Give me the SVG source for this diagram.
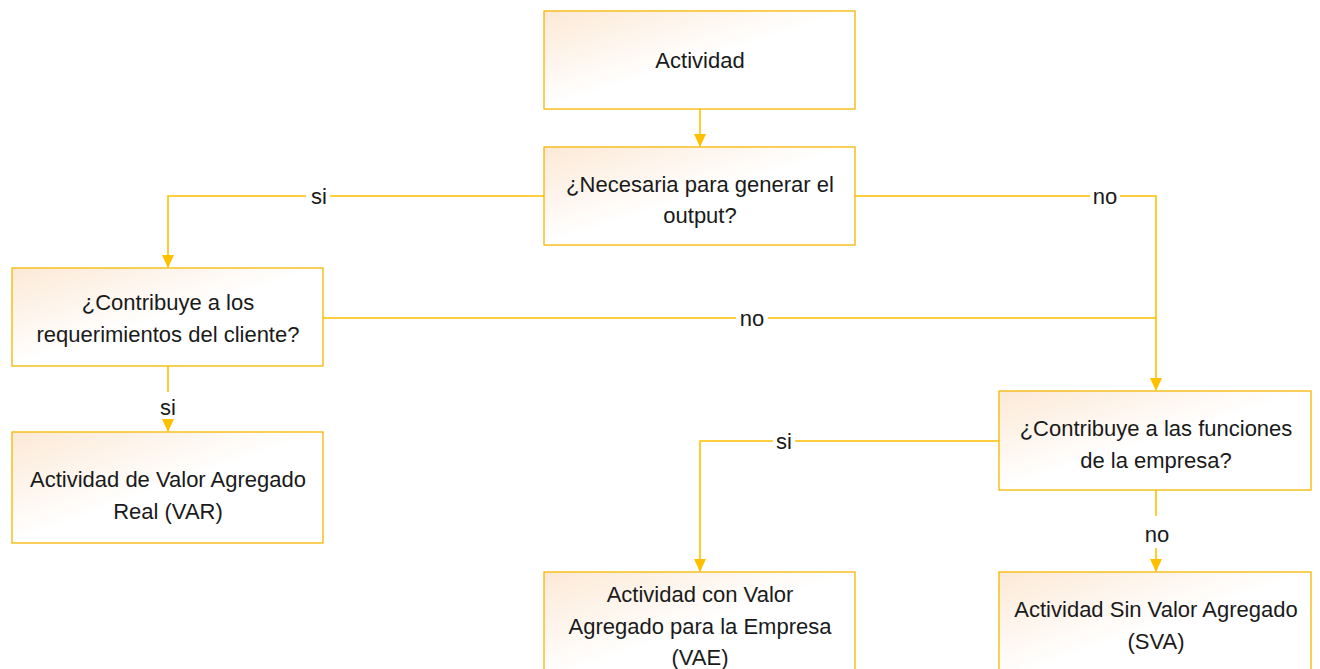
<svg xmlns="http://www.w3.org/2000/svg" width="1320" height="669" viewBox="0 0 1320 669">
<style>
.box{stroke:#F5B700;stroke-width:1.3;fill:url(#g)}
.t{font-family:"Liberation Sans",Arial,sans-serif;font-size:22px;fill:#1a1a1a;text-anchor:middle}
.c{stroke:#FFC000;stroke-width:1.6;fill:none}
.lb{font-family:"Liberation Sans",Arial,sans-serif;font-size:22px;fill:#1a1a1a;text-anchor:middle}
</style>
<defs>
<linearGradient id="g" x1="0" y1="0" x2="1" y2="1">
<stop offset="0" stop-color="#FCE9D6"/>
<stop offset="0.5" stop-color="#FFFFFF"/>
<stop offset="1" stop-color="#FFFFFF"/>
</linearGradient>
<marker id="a" markerWidth="14" markerHeight="12" refX="12" refY="6" orient="auto" markerUnits="userSpaceOnUse">
<path d="M0,0 L13,6 L0,12 Z" fill="#FFC000"/>
</marker>
</defs>
<rect width="1320" height="669" fill="#fff"/>
<g id="connectors">
<path class="c" d="M700,109 V146" marker-end="url(#a)"/>
<path class="c" d="M544,196 H330 M306,196 H168 V267" marker-end="url(#a)"/>
<path class="c" d="M855,196 H1090 M1120,196 H1156 V390" marker-end="url(#a)"/>
<path class="c" d="M323,318 H736 M768,318 H1156"/>
<path class="c" d="M168,366 V392 M168,422 V431" marker-end="url(#a)"/>
<path class="c" d="M999,441 H795 M773,441 H700 V571" marker-end="url(#a)"/>
<path class="c" d="M1156,490 V516 M1156,548 V571" marker-end="url(#a)"/>
<text class="lb" x="319" y="204">si</text>
<text class="lb" x="1105" y="204">no</text>
<text class="lb" x="752" y="326">no</text>
<text class="lb" x="168" y="415">si</text>
<text class="lb" x="784" y="449">si</text>
<text class="lb" x="1157" y="542">no</text>
</g>
<g id="n1"><rect class="box" x="544" y="11" width="311" height="98"/><text class="t" x="700" y="68">Actividad</text></g>
<g id="n2"><rect class="box" x="544" y="147" width="311" height="98"/><text class="t" x="700" y="192">¿Necesaria para generar el</text><text class="t" x="700" y="223">output?</text></g>
<g id="n3"><rect class="box" x="12" y="268" width="311" height="98"/><text class="t" x="168" y="310">¿Contribuye a los</text><text class="t" x="168" y="342">requerimientos del cliente?</text></g>
<g id="n4"><rect class="box" x="12" y="432" width="311" height="111"/><text class="t" x="168" y="487">Actividad de Valor Agregado</text><text class="t" x="168" y="519">Real (VAR)</text></g>
<g id="n5"><rect class="box" x="999" y="391" width="312" height="99"/><text class="t" x="1156" y="436">¿Contribuye a las funciones</text><text class="t" x="1156" y="468">de la empresa?</text></g>
<g id="n6"><rect class="box" x="544" y="572" width="311" height="110"/><text class="t" x="700" y="602">Actividad con Valor</text><text class="t" x="700" y="634">Agregado para la Empresa</text><text class="t" x="700" y="665">(VAE)</text></g>
<g id="n7"><rect class="box" x="999" y="572" width="312" height="110"/><text class="t" x="1156" y="617">Actividad Sin Valor Agregado</text><text class="t" x="1156" y="649">(SVA)</text></g>
</svg>
